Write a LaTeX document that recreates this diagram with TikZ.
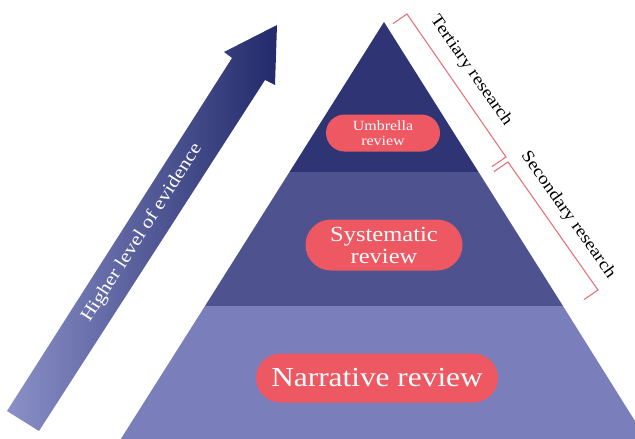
\documentclass[tikz,border=0pt]{standalone}
\usepackage{fontspec}
\setmainfont{Liberation Serif}[FakeStretch=1.14]
\usetikzlibrary{shapes.misc}
\definecolor{topc}{HTML}{2E3474}
\definecolor{midc}{HTML}{4E538F}
\definecolor{botc}{HTML}{7A7FBB}
\definecolor{pillc}{HTML}{EE5862}
\definecolor{brk}{HTML}{E8727B}
\definecolor{arrl}{HTML}{8B90C8}
\definecolor{arrd}{HTML}{222A6B}
\tikzset{
  pill/.style={rounded rectangle, fill=pillc, text=white, align=center, inner sep=0pt},
  bracketline/.style={draw=brk, line width=1.1pt},
  sidelabel/.style={text=black, font=\fontsize{17}{19}\selectfont, inner sep=0pt}
}
\begin{document}
\begin{tikzpicture}[x=1pt,y=-1pt]
\useasboundingbox (0,0) rectangle (635,439);
\begin{scope}
\clip (0,0) rectangle (635,439);
% pyramid layers
\fill[topc] (384,22) -- (478.5,172) -- (289.5,172) -- cycle;
\fill[midc] (289.5,172) -- (478.5,172) -- (563,306) -- (205,306) -- cycle;
\fill[botc] (205,306) -- (563,306) -- (650,445) -- (117,445) -- cycle;
% arrow
\shade[left color=arrl, right color=arrd] (7,411) -- (39,431) -- (265,80) -- (275,85) -- (277,25) -- (224,52) -- (232,58) -- cycle;
\end{scope}
\node[text=white, rotate=57.3, font=\fontsize{18.5}{20}\selectfont, inner sep=0pt] (evid) at (142,233) {Higher level of evidence};
% pills
\node[pill, minimum width=114pt, minimum height=37pt, font=\fontsize{14}{15}\selectfont] (umb) at (383,133) {Umbrella\\review};
\node[pill, minimum width=157pt, minimum height=51pt, font=\fontsize{21.5}{22}\selectfont] (sys) at (384,245) {Systematic\\review};
\node[pill, minimum width=242pt, minimum height=49pt, font=\fontsize{27.5}{29}\selectfont] (nar) at (377,378) {Narrative review};
% brackets
\draw[bracketline] (393,23.6) -- (407,14) -- (506,157) -- (492,166.6);
\draw[bracketline] (494,171.6) -- (508,162) -- (598,290) -- (584,299.6);
\node[sidelabel, rotate=-55] (tert) at (471,71) {Tertiary research};
\node[sidelabel, rotate=-54.5] (sec) at (568,215) {Secondary research};
\end{tikzpicture}
\end{document}
